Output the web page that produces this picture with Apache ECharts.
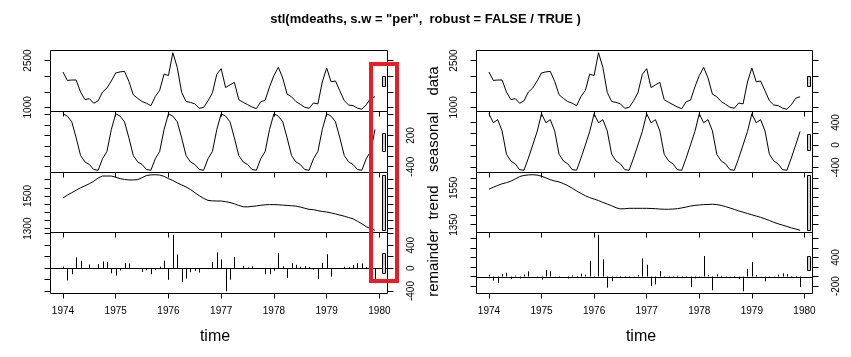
<!DOCTYPE html>
<html><head><meta charset="utf-8">
<script src="https://cdn.jsdelivr.net/npm/echarts@6/dist/echarts.min.js"></script>
<style>html,body{margin:0;padding:0;background:#fff;}#c{width:851px;height:357px;}</style>
</head><body><div id="c"></div>
<script>
const startYear = 1974;
const deaths = [
2134,1863,1877,1877,1492,1249,1280,1131,1209,1492,1621,1846,
2103,2137,2153,1833,1403,1288,1186,1133,1053,1347,1545,2066,
2020,2750,2283,1479,1189,1160,1113,970,999,1208,1467,2059,
2240,1634,1722,1801,1246,1162,1087,1013,959,1179,1229,1655,
2019,2284,1942,1423,1340,1187,1098,1004,970,1140,1110,1812,
2263,1820,1846,1531,1215,1075,1056,975,940,1081,1294,1341];
const seasonalPer = [
619,573,465,155,-185,-309,-358,-455,-469,-247,-108,315,
619,573,465,155,-185,-309,-358,-455,-469,-247,-108,315,
619,573,465,155,-185,-309,-358,-455,-469,-247,-108,315,
619,573,465,155,-185,-309,-358,-455,-469,-247,-108,315,
619,573,465,155,-185,-309,-358,-455,-469,-247,-108,315,
619,573,465,155,-185,-309,-358,-455,-469,-247,-108,315];
const trendPer = [
1488,1505,1520,1535,1550,1562,1575,1590,1610,1622,1622,1622,
1615,1606,1601,1598,1598,1600,1612,1625,1629,1630,1628,1620,
1606,1595,1580,1568,1555,1540,1520,1502,1485,1473,1470,1469,
1469,1465,1460,1452,1442,1434,1433,1436,1439,1443,1446,1447,
1447,1446,1444,1442,1440,1438,1432,1425,1418,1416,1410,1405,
1402,1396,1390,1383,1376,1368,1360,1345,1330,1312,1300,1290];
const remainderPer = [
27,-215,-108,187,127,-4,63,-4,68,117,107,-91,
-131,-42,87,80,-10,-3,-68,-37,-107,-36,25,131,
-205,582,238,-244,-181,-71,-49,-77,-17,-18,105,275,
152,-404,-203,194,-11,37,12,32,-11,-17,-109,-107,
-47,265,33,-174,85,58,24,34,21,-29,-192,92,
242,-149,-9,-7,24,16,54,85,79,16,102,-264];
const seasonalRob = [
555,395,450,250,-165,-285,-337,-440,-450,-235,0,240,
555,395,450,250,-165,-285,-337,-440,-450,-235,0,240,
555,395,450,250,-165,-285,-337,-440,-450,-235,0,240,
555,395,450,250,-165,-285,-337,-440,-450,-235,0,240,
555,395,450,250,-165,-285,-337,-440,-450,-235,0,240,
555,395,450,250,-165,-285,-337,-440,-450,-235,0,240];
const trendRob = [
1543,1553,1563,1572,1578,1586,1598,1611,1617,1620,1621,1619,
1613,1604,1594,1587,1582,1573,1562,1548,1533,1520,1507,1497,
1489,1481,1471,1462,1453,1442,1436,1437,1439,1439,1439,1439,
1439,1438,1437,1435,1434,1434,1435,1437,1441,1446,1451,1455,
1457,1459,1460,1461,1459,1455,1448,1441,1433,1425,1418,1411,
1404,1397,1390,1382,1373,1363,1355,1348,1341,1333,1327,1320];
const remainderRob = [
36,-85,-136,55,79,-52,19,-40,42,107,0,-13,
-65,138,109,-4,-14,0,-39,25,-30,62,38,329,
-24,874,362,-233,-99,3,14,-27,10,4,28,380,
246,-199,-165,116,-23,13,-11,16,-32,-32,-222,-40,
7,430,32,-288,46,17,-13,3,-13,-50,-308,161,
304,28,6,-101,7,-3,38,67,49,-17,-33,-219];
const yearTicks = [1974,1975,1976,1977,1978,1979,1980];
const panelNames = ['data','seasonal','trend','remainder'];
const ticksPer = [[1000,1500,2000,2500],[-400,-200,0,200,400,600],[1300,1350,1400,1450,1500,1550,1600],[-400,-200,0,200,400,600]];
const labelsPer = [[1000,2500],[-400,200],[1300,1500],[-400,0,400]];
const ticksRob = [[1000,1500,2000,2500],[-400,-200,0,200,400],[1350,1400,1450,1500,1550,1600],[-200,0,200,400,600,800]];
const labelsRob = [[1000,2500],[-400,0,400],[1350,1550],[-200,400]];
const titleText = 'stl(mdeaths, s.w = "per",  robust = FALSE / TRUE )';

const FONT = '"Liberation Sans", Arial, sans-serif';
const plain = v => String(Math.round(v));
const months = deaths.map((_, i) => startYear + i / 12);
const tMin = months[0], tMax = months[months.length - 1];
const xPad = 0.04 * (tMax - tMin);
const xmin = tMin - xPad, xmax = tMax + xPad;
const tops = [50.5, 111.5, 172.5, 232.5, 293.5];

const plots = [
  {left: 50.5, width: 337, comps: [deaths, seasonalPer, trendPer, remainderPer], ticks: ticksPer, labels: labelsPer},
  {left: 476.5, width: 336, comps: [deaths, seasonalRob, trendRob, remainderRob], ticks: ticksRob, labels: labelsRob}
];

const grid = [], xAxis = [], yAxis = [], series = [];
plots.forEach((p, pi) => {
  const ranges = p.comps.map(c => [Math.min(...c), Math.max(...c)]);
  const mx = Math.min(...ranges.map(r => r[1] - r[0]));
  p.comps.forEach((comp, k) => {
    const g = pi * 4 + k;
    const [lo, hi] = ranges[k];
    const pad = 0.04 * (hi - lo);
    const ymin = lo - pad, ymax = hi + pad;
    grid.push({left: p.left, top: tops[k], width: p.width, height: tops[k + 1] - tops[k],
      show: true, borderColor: '#000', borderWidth: 1, backgroundColor: 'transparent'});
    xAxis.push({gridIndex: g, type: 'value', min: xmin, max: xmax, position: 'bottom',
      axisLine: {show: false, onZero: false}, splitLine: {show: false},
      axisTick: {show: true, inside: false, length: 5, customValues: yearTicks, lineStyle: {color: '#000', width: 1}},
      axisLabel: {show: k === 3, customValues: yearTicks, formatter: plain, fontSize: 10, color: '#000', margin: 13, fontFamily: FONT}});
    const labelRight = (k % 2 === 1);
    ['left', 'right'].forEach(side => {
      const showLab = (side === 'right') === labelRight;
      yAxis.push({gridIndex: g, type: 'value', position: side, min: ymin, max: ymax,
        axisLine: {show: false, onZero: false}, splitLine: {show: false},
        axisTick: {show: true, inside: false, length: 6, customValues: p.ticks[k], lineStyle: {color: '#000', width: 1}},
        axisLabel: {show: showLab, customValues: p.labels[k], formatter: plain, rotate: 90, fontSize: 10, color: '#000',
          margin: side === 'left' ? 17 : 19, fontFamily: FONT}});
    });
    const yIdx = g * 2;
    const pts = months.map((t, i) => [t, comp[i]]);
    if (k < 3) {
      series.push({type: 'line', xAxisIndex: g, yAxisIndex: yIdx, data: pts, showSymbol: false, symbol: 'none',
        lineStyle: {color: '#000', width: 1}, silent: true, animation: false, z: 3});
    } else {
      series.push({type: 'custom', xAxisIndex: g, yAxisIndex: yIdx, data: pts, silent: true, animation: false, z: 3,
        renderItem: (params, api) => {
          const a = api.coord([api.value(0), 0]);
          const b = api.coord([api.value(0), api.value(1)]);
          const px = Math.round(a[0]) + 0.5;
          return {type: 'line', shape: {x1: px, y1: a[1], x2: px, y2: b[1]}, style: {stroke: '#000', lineWidth: 1}};
        }});
      // zero line (abline h = 0)
      series.push({type: 'custom', xAxisIndex: g, yAxisIndex: yIdx, data: [[tMin, 0]], silent: true, animation: false, z: 3,
        renderItem: (params, api) => {
          const cs = params.coordSys;
          const y0 = Math.round(api.coord([api.value(0), 0])[1]) + 0.5;
          return {type: 'line', shape: {x1: cs.x, y1: y0, x2: cs.x + cs.width, y2: y0}, style: {stroke: '#000', lineWidth: 1}};
        }});
    }
    // range bar
    const mid = (lo + hi) / 2;
    const dxBar = (xmax - xmin) / 64;
    series.push({type: 'custom', xAxisIndex: g, yAxisIndex: yIdx, data: [[xmax - dxBar, mid]], silent: true, animation: false, z: 4, clip: false,
      renderItem: (params, api) => {
        const p1 = api.coord([xmax - dxBar, mid + mx / 2]);
        const p2 = api.coord([xmax - 0.4 * dxBar, mid - mx / 2]);
        const x1 = Math.round(p1[0]) + 0.5, y1 = Math.round(p1[1]) + 0.5;
        const x2 = Math.round(p2[0]) + 0.5, y2 = Math.round(p2[1]) + 0.5;
        return {type: 'rect', shape: {x: x1, y: y1, width: x2 - x1, height: y2 - y1},
          style: {fill: '#d3d3d3', stroke: '#000', lineWidth: 1}};
      }});
  });
});

const graphic = [
  {type: 'text', left: 'center', top: 13, style: {text: titleText, font: 'bold 13px ' + FONT, fill: '#000'}},
  {type: 'text', x: 215, y: 337, style: {text: 'time', font: '16px ' + FONT, fill: '#000', textAlign: 'center', textVerticalAlign: 'middle'}},
  {type: 'text', x: 641, y: 337, style: {text: 'time', font: '16px ' + FONT, fill: '#000', textAlign: 'center', textVerticalAlign: 'middle'}},
  {type: 'rect', z: 100, shape: {x: 371, y: 64, width: 26, height: 217}, style: {fill: 'none', stroke: '#ED1C24', lineWidth: 4}}
];
panelNames.forEach((name, k) => {
  graphic.push({type: 'text', x: 434, y: (tops[k] + tops[k + 1]) / 2, rotation: Math.PI / 2,
    style: {text: name, font: '15px ' + FONT, fill: '#000', textAlign: 'center', textVerticalAlign: 'middle'}});
});

const chart = echarts.init(document.getElementById('c'), null, {renderer: 'canvas'});
chart.setOption({animation: false, backgroundColor: '#fff', grid, xAxis, yAxis, series, graphic});
</script>
</body></html>
